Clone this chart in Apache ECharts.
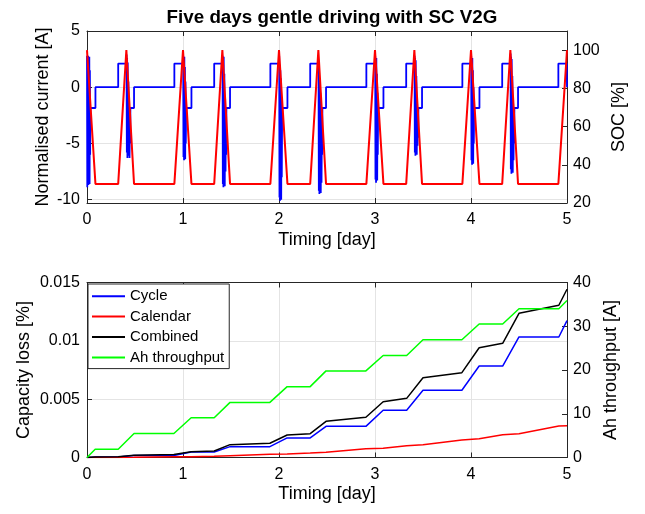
<!DOCTYPE html>
<html>
<head>
<meta charset="utf-8">
<script src="https://cdn.jsdelivr.net/npm/echarts@6/dist/echarts.min.js"></script>
<style>
html,body{margin:0;padding:0;background:#fff;}
#chart{width:645px;height:514px;}
</style>
</head>
<body>
<div id="chart"></div>
<script>
// ---------- Data ----------
const chartTitle = 'Five days gentle driving with SC V2G';

// Top panel: normalised current [A] vs time [day]
const currentData = [
  [0,2.8],[0.003,-8.9],[0.006,2.6],[0.009,-8.4],[0.012,2.8],[0.015,-8.7],[0.018,2.4],[0.021,-7.9],[0.024,2.7],[0.027,-8.6],[0.030,1.5],[0.033,-6.0],[0.035,-1.85],[0.088,-1.85],[0.088,0],
  [0.325,0],[0.325,2.1],[0.41,2.1],
  [0.412,2.9],[0.415,-5.8],[0.418,2.6],[0.421,-6.3],[0.424,2.2],[0.427,-5.5],[0.431,0.5],[0.435,-6.1],[0.439,-2.5],[0.443,-6.3],[0.447,-3.0],[0.45,-5.0],[0.452,-1.85],[0.49,-1.85],[0.49,0],
  [0.91,0],[0.91,2.1],[1.0,2.1],
  [1.002,2.8],[1.005,-6.2],[1.008,2.5],[1.011,-6.5],[1.014,2.7],[1.017,-5.9],[1.020,1.8],[1.023,-6.4],[1.026,0.5],[1.029,-5.0],[1.032,-2.5],[1.035,-1.85],[1.088,-1.85],[1.088,0],
  [1.325,0],[1.325,2.1],[1.41,2.1],
  [1.412,2.8],[1.415,-8.6],[1.418,2.5],[1.421,-8.9],[1.424,2.7],[1.427,-8.2],[1.431,1.2],[1.435,-8.8],[1.439,-1.0],[1.443,-7.5],[1.447,-2.5],[1.45,-6.0],[1.452,-1.85],[1.49,-1.85],[1.49,0],
  [1.91,0],[1.91,2.1],[2.0,2.1],
  [2.002,2.8],[2.005,-9.8],[2.008,2.0],[2.011,-10.1],[2.014,1.5],[2.017,-9.5],[2.020,0.8],[2.023,-10.0],[2.026,-1.0],[2.029,-8.0],[2.032,-3.0],[2.035,-1.85],[2.088,-1.85],[2.088,0],
  [2.325,0],[2.325,2.1],[2.41,2.1],
  [2.412,1.0],[2.415,-9.2],[2.418,0.8],[2.421,-9.5],[2.424,0.5],[2.427,-9.0],[2.431,-0.5],[2.435,-9.4],[2.439,-2.0],[2.443,-8.5],[2.447,-3.0],[2.45,-6.0],[2.452,-1.85],[2.49,-1.85],[2.49,0],
  [2.91,0],[2.91,2.1],[3.0,2.1],
  [3.002,2.8],[3.005,-8.2],[3.008,2.4],[3.011,-8.5],[3.014,2.6],[3.017,-7.8],[3.020,1.2],[3.023,-8.3],[3.026,-0.5],[3.029,-6.0],[3.032,-2.5],[3.035,-1.85],[3.088,-1.85],[3.088,0],
  [3.325,0],[3.325,2.1],[3.41,2.1],
  [3.412,2.8],[3.415,-5.8],[3.418,2.6],[3.421,-6.1],[3.424,2.4],[3.427,-5.6],[3.431,1.0],[3.435,-6.0],[3.439,-1.5],[3.443,-5.2],[3.447,-2.5],[3.45,-4.5],[3.452,-1.85],[3.49,-1.85],[3.49,0],
  [3.91,0],[3.91,2.1],[4.0,2.1],
  [4.002,2.8],[4.005,-6.5],[4.008,2.5],[4.011,-6.9],[4.014,2.6],[4.017,-6.2],[4.020,1.5],[4.023,-6.8],[4.026,0],[4.029,-5.0],[4.032,-2.5],[4.035,-1.85],[4.088,-1.85],[4.088,0],
  [4.325,0],[4.325,2.1],[4.41,2.1],
  [4.412,3.0],[4.415,-7.3],[4.418,2.7],[4.421,-7.7],[4.424,2.5],[4.427,-7.0],[4.431,1.0],[4.435,-7.6],[4.439,-1.5],[4.443,-6.5],[4.447,-2.5],[4.45,-5.0],[4.452,-1.85],[4.49,-1.85],[4.49,0],
  [4.91,0],[4.91,2.1],[4.998,2.1],[5.0,0]
];

// Top panel: SOC [%] vs time [day]
const socData = [
  [0,100],[0.088,30],[0.325,30],[0.41,100],[0.49,30],[0.91,30],[1.0,100],[1.088,30],
  [1.325,30],[1.41,100],[1.49,30],[1.91,30],[2.0,100],[2.088,30],
  [2.325,30],[2.41,100],[2.49,30],[2.91,30],[3.0,100],[3.088,30],
  [3.325,30],[3.41,100],[3.49,30],[3.91,30],[4.0,100],[4.088,30],
  [4.325,30],[4.41,100],[4.49,30],[4.91,30],[5.0,100]
];

// Bottom panel
const lossTime     = [0, 0.085, 0.325, 0.49, 0.905, 1.085, 1.325, 1.49, 1.905, 2.085, 2.325, 2.49, 2.905, 3.085, 3.33, 3.5, 3.905, 4.085, 4.33, 4.5, 4.915, 5.0];
const cycleLoss    = [0, 0.00005, 0.00005, 0.00018, 0.00018, 0.00047, 0.00047, 0.00093, 0.00093, 0.00168, 0.00168, 0.00267, 0.00267, 0.00405, 0.00405, 0.00576, 0.00576, 0.00784, 0.00784, 0.01033, 0.01033, 0.01173];
const calendarLoss = [0, 0, 0.00001, 0.00002, 0.00006, 0.00007, 0.0001, 0.00015, 0.00027, 0.00031, 0.00038, 0.00045, 0.00074, 0.0008, 0.00101, 0.0011, 0.00151, 0.00161, 0.00195, 0.00203, 0.0027, 0.00272];
const combinedLoss = [0, 0.00005, 0.00006, 0.0002, 0.00025, 0.0005, 0.00056, 0.0011, 0.00122, 0.00193, 0.00204, 0.0031, 0.00345, 0.00478, 0.00507, 0.00684, 0.00727, 0.00941, 0.00979, 0.01236, 0.01305, 0.01442];
const ahThroughput = [0, 1.9, 1.9, 5.5, 5.5, 9.1, 9.1, 12.6, 12.6, 16.2, 16.2, 19.8, 19.8, 23.3, 23.3, 26.9, 26.9, 30.5, 30.5, 34.0, 34.0, 35.9];
const legendNames  = ['Cycle', 'Calendar', 'Combined', 'Ah throughput'];

// ---------- Chart ----------
const FONT = '"Liberation Sans", Arial, Helvetica, sans-serif';
const AX = '#262626';
const pair = (xs, ys) => xs.map((x, i) => [x, ys[i]]);

function xAxisBase(grid, pos, withLabels) {
  return {
    type: 'value', gridIndex: grid, position: pos, min: 0, max: 5, interval: 1,
    axisLine: {show: true, onZero: false, lineStyle: {color: AX, width: 1}},
    axisTick: {show: true, inside: true, length: 5, lineStyle: {color: AX}},
    axisLabel: {show: withLabels, color: '#000', fontSize: 16, fontFamily: FONT, margin: 9},
    splitLine: {show: withLabels, lineStyle: {color: '#e4e4e4', width: 1}},
    name: withLabels ? 'Timing [day]' : '', nameLocation: 'middle', nameGap: 28,
    nameMoveOverlap: false,
    nameTextStyle: {fontSize: 18, fontFamily: FONT, color: '#000'}
  };
}
function yAxisBase(grid, pos, name, gap, split) {
  return {
    type: 'value', gridIndex: grid, position: pos,
    axisLine: {show: true, onZero: false, lineStyle: {color: AX, width: 1}},
    axisTick: {show: true, inside: true, length: 5, lineStyle: {color: AX}},
    axisLabel: {color: '#000', fontSize: 16, fontFamily: FONT, margin: pos === 'left' ? 7 : 6},
    splitLine: {show: split, lineStyle: {color: '#e4e4e4', width: 1}},
    name: name, nameLocation: 'middle', nameGap: gap, nameRotate: 90,
    nameMoveOverlap: false,
    nameTextStyle: {fontSize: 18, fontFamily: FONT, color: '#000'}
  };
}

const yCur = yAxisBase(0, 'left', 'Normalised current [A]', 35, true);
Object.assign(yCur, {min: -10.3, max: 5, splitNumber: 3});
yCur.axisLabel.formatter = v => (Math.abs(v / 5 - Math.round(v / 5)) < 1e-6 ? String(Math.round(v)) : '');

const ySoc = yAxisBase(0, 'right', 'SOC [%]', 43, false);
Object.assign(ySoc, {min: 20, max: 110, interval: 20});
ySoc.axisLabel.formatter = v => (v % 20 === 0 ? String(v) : '');

const yLoss = yAxisBase(1, 'left', 'Capacity loss [%]', 54, true);
Object.assign(yLoss, {min: 0, max: 0.015, interval: 0.005});

const yAh = yAxisBase(1, 'right', 'Ah throughput [A]', 35, false);
Object.assign(yAh, {min: 0, max: 40, interval: 10});

const option = {
  animation: false,
  backgroundColor: '#ffffff',
  textStyle: {fontFamily: FONT},
  title: {
    text: chartTitle, left: 327, textAlign: 'center', top: 3,
    textStyle: {fontSize: 18.8, fontWeight: 'bold', fontFamily: FONT, color: '#000'}
  },
  grid: [
    {left: 87, right: 78, top: 31, height: 172},
    {left: 87, right: 78, top: 282.5, height: 175}
  ],
  xAxis: [
    xAxisBase(0, 'bottom', true),
    xAxisBase(0, 'top', false),
    xAxisBase(1, 'bottom', true),
    xAxisBase(1, 'top', false)
  ],
  yAxis: [yCur, ySoc, yLoss, yAh],
  legend: {
    data: legendNames, orient: 'vertical', left: 88, top: 284,
    icon: 'rect', itemWidth: 33, itemHeight: 2, itemGap: 0,
    padding: [2, 5, 1, 4],
    borderColor: AX, borderWidth: 1, backgroundColor: '#ffffff',
    textStyle: {fontSize: 15, fontFamily: FONT, color: '#000', lineHeight: 20.4}
  },
  series: [
    {name: 'Current', type: 'line', xAxisIndex: 0, yAxisIndex: 0, data: currentData,
     symbol: 'none', lineStyle: {color: '#0000ff', width: 1.8}, itemStyle: {color: '#0000ff'}},
    {name: 'SOC', type: 'line', xAxisIndex: 0, yAxisIndex: 1, data: socData,
     symbol: 'none', lineStyle: {color: '#ff0000', width: 2}, itemStyle: {color: '#ff0000'}},
    {name: 'Cycle', type: 'line', xAxisIndex: 2, yAxisIndex: 2, data: pair(lossTime, cycleLoss),
     symbol: 'none', lineStyle: {color: '#0000ff', width: 1.5}, itemStyle: {color: '#0000ff'}},
    {name: 'Calendar', type: 'line', xAxisIndex: 2, yAxisIndex: 2, data: pair(lossTime, calendarLoss),
     symbol: 'none', lineStyle: {color: '#ff0000', width: 1.5}, itemStyle: {color: '#ff0000'}},
    {name: 'Combined', type: 'line', xAxisIndex: 2, yAxisIndex: 2, data: pair(lossTime, combinedLoss),
     symbol: 'none', lineStyle: {color: '#000000', width: 1.5}, itemStyle: {color: '#000000'}},
    {name: 'Ah throughput', type: 'line', xAxisIndex: 2, yAxisIndex: 3, data: pair(lossTime, ahThroughput),
     symbol: 'none', lineStyle: {color: '#00ff00', width: 1.5}, itemStyle: {color: '#00ff00'}}
  ]
};

const chart = echarts.init(document.getElementById('chart'), null, {renderer: 'canvas'});
chart.setOption(option);
</script>
</body>
</html>
